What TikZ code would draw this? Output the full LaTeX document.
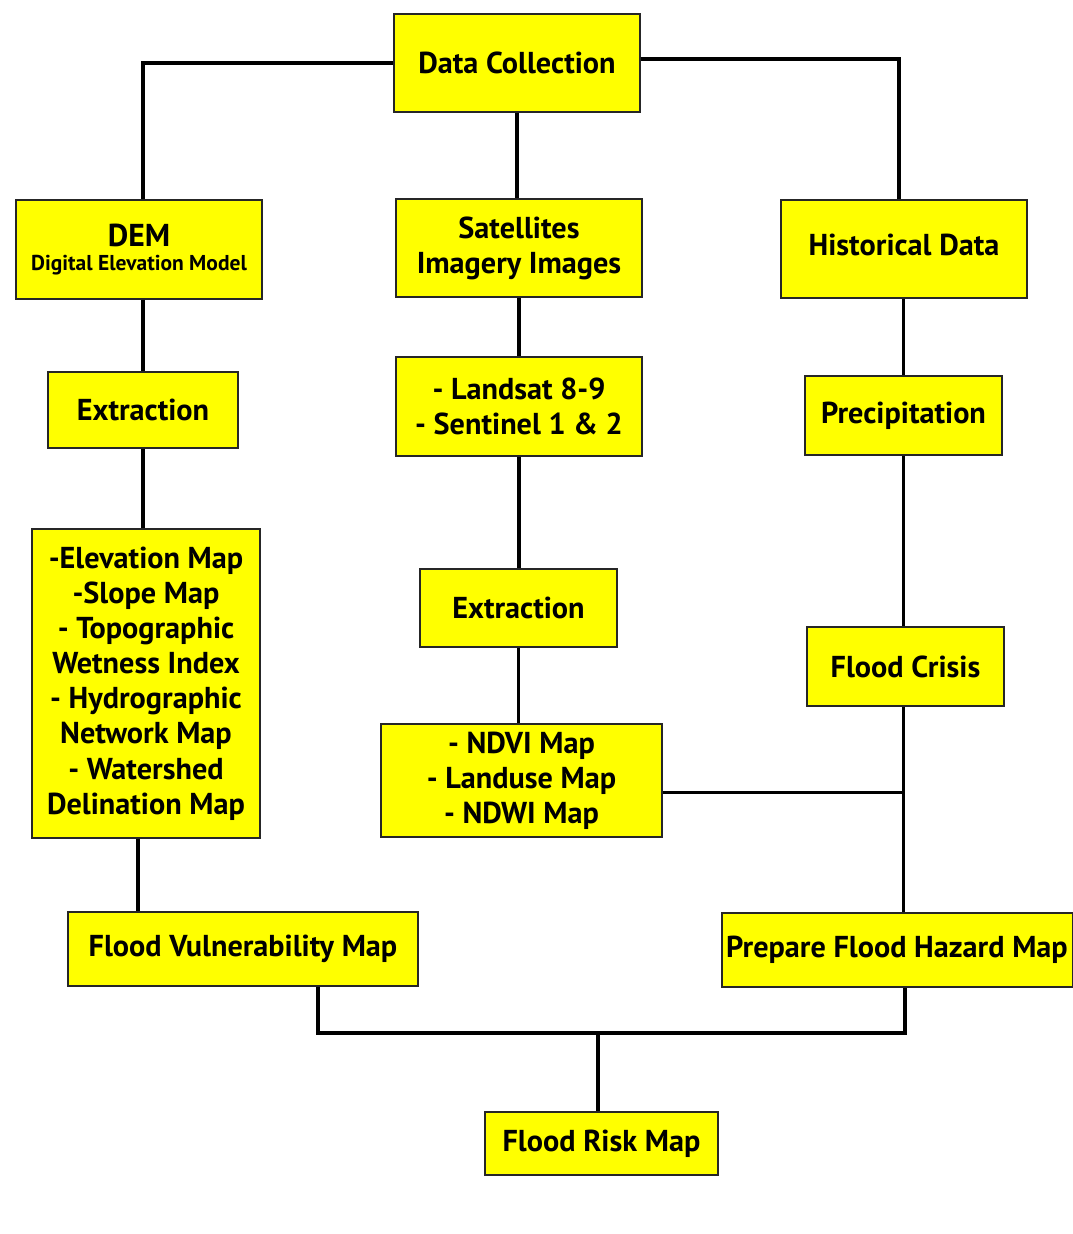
\documentclass[tikz,border=0pt]{standalone}
\usepackage{fontspec}
\setmainfont{PT Sans}
\usepackage{tikz}
\usetikzlibrary{positioning}
\definecolor{boxyellow}{RGB}{255,255,0}

\begin{document}
\begin{tikzpicture}[
    x=0.025cm,
    y=-0.025cm,
    box/.style={
        rectangle,
        draw=black!85,
        line width=0.8pt,
        fill=boxyellow,
        align=center,
        inner sep=0pt,
        font=\fontsize{21.5}{25}\selectfont\bfseries
    },
    link/.style={line width=2.8pt, line join=miter}
]
\useasboundingbox (0,0) rectangle (1072,1234);

\node[box, minimum width=6.15cm, minimum height=2.45cm] (collect) at (517,63) {Data Collection};
\node[box, minimum width=6.15cm, minimum height=2.475cm] (dem) at (139,249.5) {{\fontsize{22.5}{26}\selectfont DEM}\\[-0.26cm]{\fontsize{15.3}{16}\selectfont Digital Elevation Model}};
\node[box, minimum width=6.15cm, minimum height=2.45cm] (satellite) at (519,248) {Satellites\\Imagery Images};
\node[box, minimum width=6.15cm, minimum height=2.45cm] (history) at (904,249) {\raisebox{0.2cm}{Historical Data}};
\node[box, minimum width=4.75cm, minimum height=1.9cm] (extractdem) at (143,410) {Extraction};
\node[box, minimum width=6.15cm, minimum height=2.475cm] (sensors) at (519,406.5) {- Landsat 8-9\\- Sentinel 1 \& 2};
\node[box, minimum width=4.925cm, minimum height=1.975cm] (precip) at (903.5,415.5) {Precipitation};
\node[box, minimum width=5.7cm, minimum height=7.725cm] (terrain) at (146,683.5) {-Elevation Map\\-Slope Map\\- Topographic\\Wetness Index\\- Hydrographic\\Network Map\\- Watershed\\Delination Map};
\node[box, minimum width=4.925cm, minimum height=1.95cm] (extractsat) at (518.5,608) {Extraction};
\node[box, minimum width=4.925cm, minimum height=1.975cm] (crisis) at (905.5,666.5) {Flood Crisis};
\node[box, minimum width=7.025cm, minimum height=2.825cm] (indices) at (521.5,780.5) {- NDVI Map\\- Landuse Map\\- NDWI Map};
\node[box, minimum width=8.75cm, minimum height=1.85cm] (vulner) at (243,949) {Flood Vulnerability Map};
\node[box, minimum width=8.75cm, minimum height=1.85cm] (hazard) at (897,950) {Prepare Flood Hazard Map};
\node[box, minimum width=5.825cm, minimum height=1.575cm] (risk) at (601.5,1143.5) {Flood Risk Map};

\coordinate (merge) at (598,1033);

\draw[link] (collect.west) -| ([xshift=0.1cm]dem.north);
\draw[link] ([yshift=0.1cm]collect.east) -| ([xshift=-0.125cm]history.north);
\draw[link] (collect.south) -- (collect.south |- satellite.north);

\draw[link] (extractdem.north |- dem.south) -- (extractdem.north);
\draw[link] (extractdem.south) -- (extractdem.south |- terrain.north);
\draw[link] ([xshift=-0.2cm]terrain.south) -- ([xshift=-0.2cm]terrain.south |- vulner.north);

\draw[link] (satellite.south) -- (satellite.south |- sensors.north);
\draw[link] (sensors.south) -- (sensors.south |- extractsat.north);
\draw[link] (extractsat.south) -- (extractsat.south |- indices.north);

\draw[link] (precip.north |- history.south) -- (precip.north);
\draw[link] (precip.south) -- (precip.south |- crisis.north);
\draw[link] ([xshift=-0.05cm]crisis.south) -- ([xshift=-0.05cm]crisis.south |- hazard.north);
\draw[link] ([yshift=-0.3cm]indices.east) -- ([yshift=-0.3cm]indices.east -| precip.south);

\draw[link] ([xshift=1.875cm]vulner.south) |- (merge) -| ([xshift=0.2cm]hazard.south);
\draw[link] (merge) -- (merge |- risk.north);

\end{tikzpicture}
\end{document}
